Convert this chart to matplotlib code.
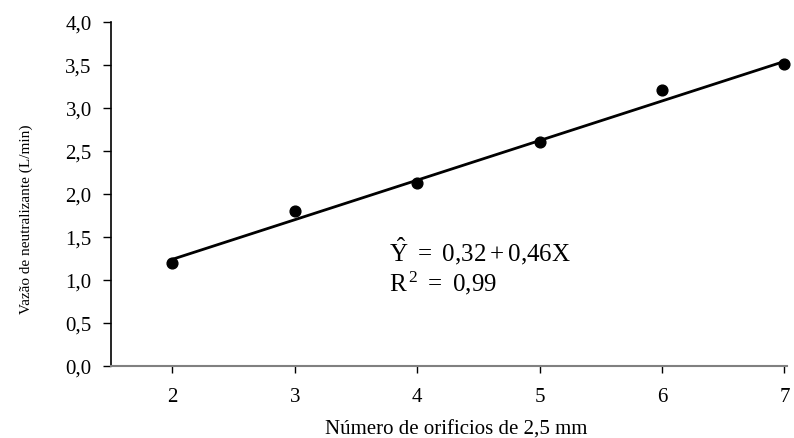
import matplotlib
matplotlib.use("Agg")
import matplotlib.pyplot as plt
import numpy as np

plt.rcParams['font.family'] = ['Liberation Serif', 'DejaVu Serif']
plt.rcParams['mathtext.fontset'] = 'custom'
plt.rcParams['mathtext.rm'] = 'Liberation Serif'
plt.rcParams['mathtext.it'] = 'Liberation Serif'

x_vals = [2, 3, 4, 5, 6, 7]
y_vals = [1.20, 1.80, 2.13, 2.60, 3.21, 3.51]
intercept = 0.32
slope = 0.46
y_ticks = [0.0, 0.5, 1.0, 1.5, 2.0, 2.5, 3.0, 3.5, 4.0]
y_tick_labels = ['0,0', '0,5', '1,0', '1,5', '2,0', '2,5', '3,0', '3,5', '4,0']
x_ticks = [2, 3, 4, 5, 6, 7]

fig = plt.figure(figsize=(7.94, 4.39), dpi=100)
ax = fig.add_axes([0.140, 0.164, 0.851, 0.784])

xl = np.array([x_vals[0], x_vals[-1]])
ax.plot(xl, intercept + slope * xl, color='black', lw=2, zorder=2)
ax.scatter(x_vals, y_vals, s=60, color='black', zorder=3, clip_on=False)

ax.set_xlim(1.5, 7.02)
ax.set_ylim(0, 4.0)
ax.set_yticks(y_ticks)
ax.set_yticklabels(y_tick_labels)
ax.set_xticks(x_ticks)
ax.set_xticklabels([str(v) for v in x_ticks])

for s in ['top', 'right']:
    ax.spines[s].set_visible(False)
ax.spines['left'].set_color('black')
ax.spines['left'].set_linewidth(1.2)
ax.spines['bottom'].set_color('#808080')
ax.spines['bottom'].set_linewidth(1.5)
ax.tick_params(axis='y', direction='out', length=6, width=1, labelsize=15, pad=8)
ax.tick_params(axis='x', direction='out', length=5, width=1, color='black', labelsize=15, pad=10)

ax.set_xlabel('Número de orificios de 2,5 mm', fontsize=15)
ax.xaxis.set_label_coords(0.51, -0.155)
ax.set_ylabel('Vazão de neutralizante (L/min)', fontsize=11)
ax.yaxis.set_label_coords(-0.115, 0.43)

ax.text(3.77, 1.34, r'$\hat{\mathrm{Y}}\ =\ 0{,}32 + 0{,}46\mathrm{X}$', fontsize=18, va='center', ha='left')
ax.text(3.77, 0.97, r'$\mathrm{R}^{\,2}\ =\ 0{,}99$', fontsize=18, va='center', ha='left')

fig.savefig('out.png', dpi=100)
